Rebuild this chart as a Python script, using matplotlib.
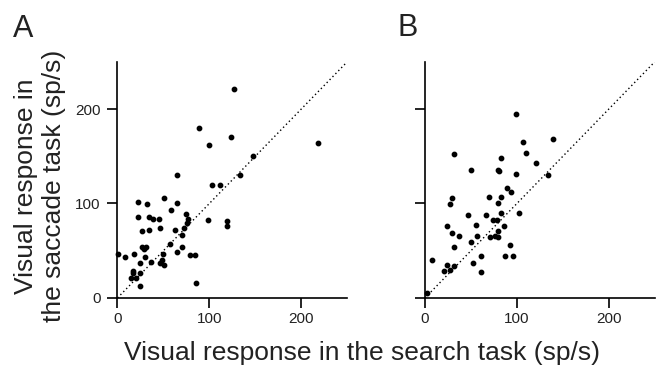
import numpy as np
import matplotlib
matplotlib.use("Agg")
import matplotlib.pyplot as plt

plt.rcParams["font.family"] = ["Liberation Sans", "DejaVu Sans"]

# Panel A: search task vs saccade task visual responses (sp/s)
search_a = [127, 89, 124, 100, 148, 133, 65, 103, 112, 51, 22, 32, 65, 58, 75,
            22, 34, 39, 45, 77, 98, 119, 119, 76, 46, 34, 63, 72, 27, 70,
            57, 27, 31, 29, 70, 1, 8, 18, 50, 65, 79, 84, 30, 24, 36,
            48, 46, 51, 17, 17, 24, 15, 20, 25, 86, 218]
saccade_a = [221, 180, 170, 162, 150, 130, 130, 120, 120, 106, 102, 99, 100, 93, 89,
             86, 86, 84, 84, 84, 83, 81, 76, 79, 74, 72, 72, 74, 71, 67,
             57, 54, 54, 52, 54, 47, 43, 47, 47, 49, 45, 45, 43, 37, 38,
             40, 37, 35, 28, 26, 26, 21, 21, 13, 16, 164]

# Panel B
search_b = [99, 139, 107, 110, 31, 83, 50, 79, 81, 121, 99, 134, 89, 94, 29,
            27, 70, 83, 79, 47, 66, 83, 102, 74, 78, 24, 55, 86, 29, 37,
            57, 79, 71, 76, 79, 50, 32, 92, 8, 61, 87, 96, 52, 24, 32,
            21, 27, 61, 2]
saccade_b = [195, 168, 165, 154, 152, 148, 136, 136, 134, 143, 131, 130, 116, 112, 106,
             99, 107, 107, 101, 88, 88, 90, 90, 83, 83, 76, 77, 76, 69, 66,
             66, 71, 64, 66, 64, 59, 54, 56, 40, 44, 44, 44, 37, 35, 34,
             29, 30, 27, 5]

ticks = [0, 100, 200]
lim = 250

fig = plt.figure(figsize=(6.6, 3.66), dpi=100)
ax_a = fig.add_axes([0.178, 0.186, 0.348, 0.645])
ax_b = fig.add_axes([0.644, 0.186, 0.348, 0.645])

for ax, xs, ys in [(ax_a, search_a, saccade_a), (ax_b, search_b, saccade_b)]:
    ax.plot([0, lim], [0, lim], color="black", linestyle=(0, (1, 2)), linewidth=1.0)
    ax.scatter(xs, ys, s=10, color="black", zorder=3, clip_on=False)
    ax.set_xlim(0, lim)
    ax.set_ylim(0, lim)
    ax.set_xticks(ticks)
    ax.set_yticks(ticks)
    for side in ["top", "right"]:
        ax.spines[side].set_visible(False)
    for side in ["left", "bottom"]:
        ax.spines[side].set_linewidth(1.2)
    ax.tick_params(direction="out", length=7, width=1.2, labelsize=11,
                   labelcolor="#222222")
    ax.tick_params(axis="x", pad=3)
    ax.tick_params(axis="y", pad=5)

ax_b.set_yticklabels([])

fig.text(0.021, 0.492, "Visual response in\nthe saccade task (sp/s)",
         rotation=90, ha="left", va="center", multialignment="center",
         fontsize=19, color="#222222")
fig.text(0.548, 0.016, "Visual response in the search task (sp/s)",
         ha="center", va="baseline", fontsize=19, color="#222222")

fig.text(13 / 660, 1 - 37 / 366, "A", fontsize=22, va="baseline", color="#222222")
fig.text(398 / 660, 1 - 36 / 366, "B", fontsize=22, va="baseline", color="#222222")

fig.savefig("out.png", dpi=100)
